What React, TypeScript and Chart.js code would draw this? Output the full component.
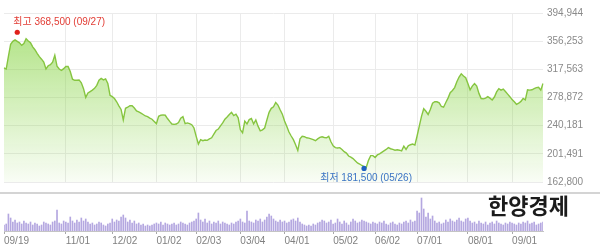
import React, { useEffect, useRef } from "react";
import { Chart, registerables } from "chart.js";

Chart.register(...registerables);

// ---- calendar (KRX trading days) ----
const firstDay = "2024-09-19";
const lastDay = "2025-09-19";
const marketHolidays = [
  "2024-10-01", "2024-10-03", "2024-10-09", "2024-12-25", "2024-12-31",
  "2025-01-01", "2025-01-27", "2025-01-28", "2025-01-29", "2025-01-30",
  "2025-03-03", "2025-05-01", "2025-05-05", "2025-05-06", "2025-06-03",
  "2025-06-06", "2025-08-15",
];

function buildTradingDays(): string[] {
  const out: string[] = [];
  const [y0, m0, d0] = firstDay.split("-").map(Number);
  const end = lastDay;
  const d = new Date(Date.UTC(y0, m0 - 1, d0));
  for (;;) {
    const iso = d.toISOString().slice(0, 10);
    if (iso > end) break;
    const wd = d.getUTCDay();
    if (wd !== 0 && wd !== 6 && !marketHolidays.includes(iso)) out.push(iso);
    d.setUTCDate(d.getUTCDate() + 1);
  }
  return out;
}

const tradingDays = buildTradingDays();
const categories = tradingDays.map((s) => s.slice(5).replace("-", "/"));

// ---- tick labels ----
const xTickLabels = ["09/19", "11/01", "12/02", "01/02", "02/03", "03/04", "04/01", "05/02", "06/02", "07/01", "08/01", "09/01"];
const yTickValues = [162800, 201491, 240181, 278872, 317563, 356253, 394944];

// ---- series: daily close (KRW) ----
const closePrices = [
  319500, 318000, 335500, 352000, 356000, 358000, 356000, 354000, 350500, 353000,
  359500, 356500, 354000, 348500, 344500, 339500, 335000, 331500, 327500, 318000,
  322500, 324000, 327500, 337000, 322000, 318000, 316000, 318500, 321500, 321500,
  314500, 304000, 302500, 302500, 303000, 299000, 291000, 279000, 285000, 287000,
  289000, 291500, 295500, 302500, 305000, 303000, 304500, 298000, 282000, 280000,
  277500, 273000, 267500, 262500, 248000, 264000, 265500, 267500, 267500, 264500,
  260500, 259000, 257500, 255500, 253500, 252500, 250500, 249000, 246000, 243000,
  253000, 254500, 255000, 254500, 250000, 246000, 242500, 242000, 242500, 244500,
  250500, 252500, 243000, 244000, 243000, 241500, 237000, 225500, 215000, 221000,
  219500, 220500, 220000, 222000, 223500, 228500, 233500, 235500, 240000, 244000,
  249000, 252000, 255500, 258500, 254000, 256000, 251000, 234500, 230500, 246500,
  242500, 248500, 250000, 242500, 248000, 239500, 233000, 234500, 237000, 248000,
  258500, 264000, 266000, 272000, 268500, 262000, 256000, 246500, 239500, 231500,
  226000, 221000, 214000, 206000, 222000, 225500, 225000, 223500, 223000, 222000,
  221000, 219500, 222000, 224000, 225000, 224000, 223500, 225500, 218000, 212500,
  210000, 209500, 210000, 207500, 204500, 202500, 198500, 197000, 195000, 192000,
  189000, 187500, 185500, 184000, 183000, 192500, 199000, 199000, 196500, 200000,
  201500, 203500, 205500, 207500, 210000, 208500, 207500, 206500, 207000, 206500,
  205500, 212000, 207500, 212500, 214000, 215000, 213500, 226000, 239500, 253000,
  263500, 260000, 255500, 262500, 271000, 273000, 273000, 271500, 266500, 265500,
  272000, 278000, 285500, 288500, 292500, 300500, 307000, 311500, 308500, 306000,
  298000, 289500, 294500, 298000, 294500, 284500, 277500, 277000, 278000, 280000,
  278000, 275500, 279500, 286500, 291000, 289000, 290500, 287000, 283500, 280000,
  276000, 273000, 269500, 271000, 273500, 277500, 275500, 289500, 289000, 289500,
  291000, 292500, 293000, 289000, 298000,
];

// ---- series: daily volume (thousand shares) ----
const volumes = [
  300, 350, 850, 650, 450, 550, 400, 450, 350, 500,
  400, 350, 450, 300, 400, 350, 250, 300, 450, 400,
  350, 300, 450, 500, 1050, 400, 350, 500, 450, 400,
  700, 500, 400, 550, 450, 650, 500, 600, 450, 350,
  400, 300, 350, 450, 400, 300, 250, 350, 400, 600,
  450, 550, 500, 700, 800, 650, 450, 550, 400, 500,
  350, 400, 300, 350, 250, 300, 250, 300, 350, 400,
  350, 450, 300, 400, 350, 300, 350, 400, 300, 350,
  450, 400, 350, 300, 400, 450, 500, 600, 900, 550,
  450, 600, 400, 500, 350, 450, 400, 500, 350, 450,
  400, 350, 300, 400, 350, 450, 500, 600, 450, 400,
  1000, 500, 450, 400, 550, 500, 600, 450, 550, 700,
  850, 750, 600, 500, 450, 550, 450, 500, 400, 450,
  550, 600, 500, 650, 450, 350, 300, 250, 300, 250,
  350, 300, 400, 450, 550, 500, 400, 450, 550, 350,
  400, 600, 450, 350, 500, 400, 300, 450, 600, 500,
  400, 450, 550, 500, 450, 400, 350, 450, 400, 350,
  450, 400, 500, 350, 300, 400, 450, 350, 300, 400,
  350, 450, 500, 400, 550, 450, 500, 1000, 900, 1650,
  1100, 700, 900, 600, 750, 500, 400, 450, 350, 400,
  550, 450, 600, 500, 450, 550, 650, 500, 450, 600,
  650, 500, 400, 450, 350, 500, 400, 350, 450, 300,
  400, 450, 350, 500, 400, 350, 300, 400, 350, 450,
  400, 350, 300, 400, 350, 450, 400, 500, 350, 400,
  450, 300, 350, 400, 450,
];

// ---- extremes ----
const highValue = 368500;
const highDate = "09/27";
const lowValue = 181500;
const lowDate = "05/26";

const tickFont = { family: "'Liberation Sans', Arial, sans-serif", size: 10 };
const noteFont = "10px 'Liberation Sans', 'Noto Sans CJK KR', sans-serif";

const tickIndexes = xTickLabels.map((l) => categories.indexOf(l));

const extremesPlugin = {
  id: "extremes",
  afterDatasetsDraw(chart: any) {
    const { ctx, scales } = chart;
    const x = scales.x;
    const y = scales.y;
    ctx.save();
    ctx.font = noteFont;
    // high
    const hx = x.getPixelForValue(categories.indexOf(highDate));
    const hy = y.getPixelForValue(highValue);
    ctx.fillStyle = "#e0211b";
    ctx.beginPath();
    ctx.arc(hx, hy, 2.6, 0, Math.PI * 2);
    ctx.fill();
    ctx.fillStyle = "#e23d35";
    ctx.textAlign = "left";
    ctx.textBaseline = "middle";
    ctx.fillText(`최고 ${highValue.toLocaleString("en-US")} (${highDate})`, Math.max(hx - 4, 2), hy - 10);
    // low
    const lx = x.getPixelForValue(categories.indexOf(lowDate));
    const ly = y.getPixelForValue(lowValue);
    ctx.fillStyle = "#1d5fc2";
    ctx.beginPath();
    ctx.arc(lx, ly, 2.6, 0, Math.PI * 2);
    ctx.fill();
    ctx.fillStyle = "#3b74c4";
    ctx.textAlign = "center";
    ctx.fillText(`최저 ${lowValue.toLocaleString("en-US")} (${lowDate})`, lx + 2, ly + 10);
    ctx.restore();
  },
};

const volumeDecorPlugin = {
  id: "volumeDecor",
  afterDraw(chart: any) {
    const { ctx, width } = chart;
    ctx.save();
    ctx.fillStyle = "#d4d4d4";
    ctx.fillRect(0, 0, width, 2);
    ctx.fillStyle = "#1b1b1b";
    ctx.font = "bold 22px 'Noto Sans CJK KR', sans-serif";
    ctx.textAlign = "left";
    ctx.textBaseline = "alphabetic";
    ctx.fillText("한양경제", 488, 22);
    ctx.restore();
  },
};

export default function App() {
  const topRef = useRef<HTMLCanvasElement | null>(null);
  const bottomRef = useRef<HTMLCanvasElement | null>(null);

  useEffect(() => {
    document.body.style.margin = "0";
    const priceChart = new Chart(topRef.current as HTMLCanvasElement, {
      type: "line",
      data: {
        labels: categories,
        datasets: [
          {
            data: closePrices,
            borderColor: "#86c540",
            borderWidth: 1.4,
            pointRadius: 0,
            tension: 0,
            fill: "start",
            backgroundColor: (c: any) => {
              const area = c.chart.chartArea;
              if (!area) return "rgba(130,210,60,0.3)";
              const g = c.chart.ctx.createLinearGradient(0, area.top, 0, area.bottom);
              g.addColorStop(0, "rgba(130,210,60,0.68)");
              g.addColorStop(1, "rgba(130,210,60,0.05)");
              return g;
            },
          },
        ],
      },
      options: {
        animation: false,
        responsive: false,
        maintainAspectRatio: false,
        layout: { padding: { left: 4, top: 13, bottom: 7, right: 0 } },
        plugins: { legend: { display: false }, tooltip: { enabled: false } },
        scales: {
          x: {
            type: "category",
            offset: false,
            ticks: { display: false, autoSkip: false },
            grid: { color: "#ebebeb", drawTicks: false, offset: false },
            border: { display: false },
            afterBuildTicks: (s: any) => {
              s.ticks = tickIndexes.filter((i) => i > 0).map((i) => ({ value: i }));
            },
            afterFit: (s: any) => {
              s.height = 0;
            },
          },
          y: {
            position: "right",
            min: yTickValues[0],
            max: yTickValues[yTickValues.length - 1],
            afterBuildTicks: (s: any) => {
              s.ticks = yTickValues.map((v) => ({ value: v }));
            },
            ticks: {
              font: tickFont,
              color: "#8a8a8a",
              padding: 4,
              callback: (v: any) => Math.round(Number(v)).toLocaleString("en-US"),
            },
            grid: { color: "#ebebeb", drawTicks: false },
            border: { display: false },
            afterFit: (s: any) => {
              s.width = 57;
            },
          },
        },
      } as any,
      plugins: [extremesPlugin],
    });

    const volumeChart = new Chart(bottomRef.current as HTMLCanvasElement, {
      type: "bar",
      data: {
        labels: categories,
        datasets: [
          {
            data: volumes,
            backgroundColor: "#b4a7e0",
            barThickness: 1,
          },
        ],
      },
      options: {
        animation: false,
        responsive: false,
        maintainAspectRatio: false,
        layout: { padding: { left: 4, top: 2, right: 57, bottom: 0 } },
        plugins: { legend: { display: false }, tooltip: { enabled: false } },
        scales: {
          x: {
            type: "category",
            offset: false,
            grid: { offset: false, drawOnChartArea: false, drawTicks: true, tickLength: 3, color: "#a8a8a8" },
            border: { display: true, color: "#c4c4c4" },
            ticks: { autoSkip: false, maxRotation: 0, align: "start", padding: 1, font: tickFont, color: "#808080" },
            afterBuildTicks: (s: any) => {
              s.ticks = tickIndexes.map((i) => ({ value: i }));
            },
            afterFit: (s: any) => {
              s.height = 17;
            },
          },
          y: { display: false, min: 0, max: 1850 },
        },
      } as any,
      plugins: [volumeDecorPlugin],
    });

    return () => {
      priceChart.destroy();
      volumeChart.destroy();
    };
  }, []);

  return (
    <div style={{ position: "absolute", left: 0, top: 0, width: 600, height: 248, background: "#fff" }}>
      <canvas ref={topRef} width={600} height={192} style={{ display: "block", width: 600, height: 192 }} />
      <canvas ref={bottomRef} width={600} height={56} style={{ display: "block", width: 600, height: 56 }} />
    </div>
  );
}
